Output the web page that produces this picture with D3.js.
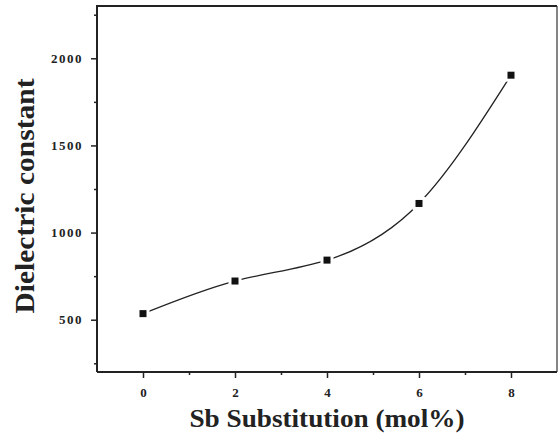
<!DOCTYPE html>
<html>
<head>
<meta charset="utf-8">
<script src="https://cdn.jsdelivr.net/npm/d3@7"></script>
<style>
  body { margin: 0; background: #fff; }
  svg { display: block; }
  .tick text { font-family: "Liberation Serif", "DejaVu Serif", serif; font-weight: bold; font-size: 13px; fill: #222; }
  .tick line { stroke: #222; stroke-width: 1.5; }
</style>
</head>
<body>
<svg id="grafico"></svg>
<script>
// valores
const substituicao = [0, 2, 4, 6, 8];
const constante = [535, 722, 842, 1167, 1903];
const ticksX = [0, 2, 4, 6, 8];
const ticksXmenores = [1, 3, 5, 7];
const ticksY = [500, 1000, 1500, 2000];
const ticksYmenores = [250, 750, 1250, 1750, 2250];

const largura = 559, altura = 435;
const margem = { esquerda: 97, direita: 2, superior: 6, inferior: 63 };

const svg = d3.select('#grafico')
    .attr('width', largura)
    .attr('height', altura);

const fnX = d3.scaleLinear()
    .domain([-1, 9])
    .range([margem.esquerda, largura - margem.direita]);

const fnY = d3.scaleLinear()
    .domain([200, 2300])
    .range([altura - margem.inferior, margem.superior]);

// ticks menores
svg.append('g')
    .attr('transform', 'translate(0,' + fnY.range()[0] + ')')
    .call(d3.axisBottom(fnX).tickValues(ticksXmenores).tickSize(3).tickFormat(''))
    .call(g => g.select('.domain').remove());

svg.append('g')
    .attr('transform', 'translate(' + fnX.range()[0] + ',0)')
    .call(d3.axisLeft(fnY).tickValues(ticksYmenores).tickSize(3).tickFormat(''))
    .call(g => g.select('.domain').remove());

// eixos principais
svg.append('g')
    .attr('transform', 'translate(0,' + fnY.range()[0] + ')')
    .call(d3.axisBottom(fnX).tickValues(ticksX).tickSize(6).tickPadding(10).tickFormat(d3.format('d')))
    .call(g => g.select('.domain').remove());

svg.append('g')
    .attr('transform', 'translate(' + fnX.range()[0] + ',0)')
    .call(d3.axisLeft(fnY).tickValues(ticksY).tickSize(6).tickPadding(8).tickFormat(d3.format('d')))
    .call(g => g.select('.domain').remove())
    .selectAll('text').style('letter-spacing', '1.5px');

// moldura
const [x0, x1] = fnX.range();
const [y0, y1] = fnY.range();
svg.append('path')
    .attr('d', `M${x0},${y0}L${x0},${y1}L${x1},${y1}`)
    .attr('fill', 'none').attr('stroke', '#222').attr('stroke-width', 2);
svg.append('path')
    .attr('d', `M${x0},${y0}L${x1},${y0}`)
    .attr('fill', 'none').attr('stroke', '#222').attr('stroke-width', 2);
svg.append('path')
    .attr('d', `M${x1},${y1}L${x1},${y0}`)
    .attr('fill', 'none').attr('stroke', '#333').attr('stroke-width', 1.2);

// curva
const dados = substituicao.map((s, i) => ({ x: s, y: constante[i] }));
const linha = d3.line()
    .x(d => fnX(d.x))
    .y(d => fnY(d.y))
    .curve(d3.curveNatural);

svg.append('path')
    .datum(dados)
    .attr('d', linha)
    .attr('fill', 'none')
    .attr('stroke', '#222')
    .attr('stroke-width', 1.3);

// marcadores com folga branca
svg.selectAll('.folga').data(dados).enter().append('rect')
    .attr('x', d => fnX(d.x) - 6.5)
    .attr('y', d => fnY(d.y) - 6.5)
    .attr('width', 13).attr('height', 13)
    .attr('fill', '#fff');

svg.selectAll('.ponto').data(dados).enter().append('rect')
    .attr('x', d => fnX(d.x) - 3.5)
    .attr('y', d => fnY(d.y) - 3.5)
    .attr('width', 7).attr('height', 7)
    .attr('fill', '#111');

// títulos
svg.append('text')
    .attr('x', (x0 + x1) / 2)
    .attr('y', 427)
    .attr('text-anchor', 'middle')
    .attr('textLength', 275)
    .attr('lengthAdjust', 'spacingAndGlyphs')
    .style('font-family', '"Liberation Serif", serif')
    .style('font-weight', 'bold')
    .style('font-size', '25px')
    .style('fill', '#222')
    .text('Sb Substitution (mol%)');

svg.append('text')
    .attr('transform', 'translate(34,196) rotate(-90)')
    .attr('text-anchor', 'middle')
    .attr('textLength', 235)
    .attr('lengthAdjust', 'spacingAndGlyphs')
    .style('font-family', '"Liberation Serif", serif')
    .style('font-weight', 'bold')
    .style('font-size', '28px')
    .style('fill', '#222')
    .text('Dielectric constant');
</script>
</body>
</html>
